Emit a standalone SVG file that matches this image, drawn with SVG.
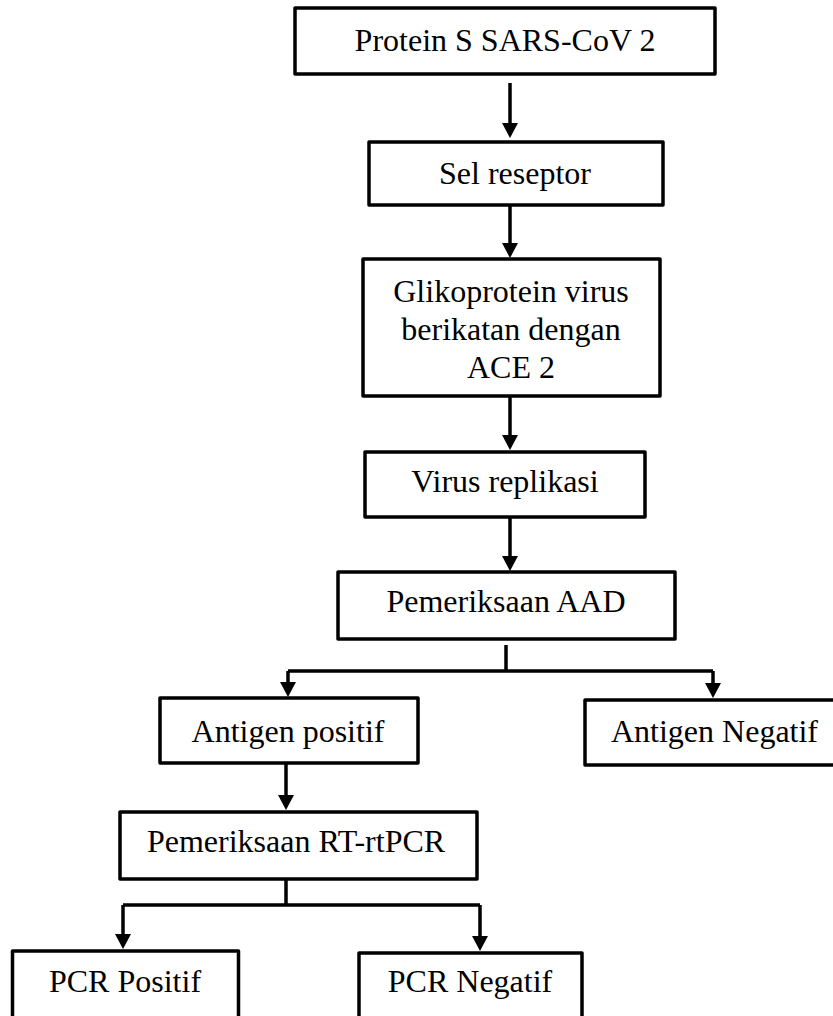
<svg xmlns="http://www.w3.org/2000/svg" width="833" height="1016" viewBox="0 0 833 1016">
<style>
.box{fill:#fff;stroke:#000;stroke-width:3.5;stroke-linejoin:round}
.lbl{font-family:"Liberation Serif","Times New Roman",serif;font-size:32px;fill:#000;text-anchor:middle}
.ln{fill:none;stroke:#000;stroke-width:3.5}
.arr{fill:none;stroke:#000;stroke-width:3.5;marker-end:url(#head)}
</style>
<defs>
<marker id="head" markerUnits="userSpaceOnUse" markerWidth="16" markerHeight="16" viewBox="0 0 16 16" refX="3" refY="8" orient="auto">
<path d="M0,0 L15,8 L0,16 Z" fill="#000"/>
</marker>
</defs>
<rect width="833" height="1016" fill="#fff"/>
<g id="connectors">
<path class="arr" d="M510,83 V126"/>
<path class="arr" d="M510,205 V246"/>
<path class="arr" d="M510,396 V438"/>
<path class="arr" d="M510,517 V559"/>
<path class="ln" d="M506,645 V671 M288,671 H713"/>
<path class="arr" d="M288,671 V685"/>
<path class="arr" d="M713,671 V686"/>
<path class="arr" d="M286,763 V798"/>
<path class="ln" d="M286,879 V905 M123,905 H480"/>
<path class="arr" d="M123,905 V937"/>
<path class="arr" d="M480,905 V939"/>
</g>
<g id="n1"><rect class="box" x="295" y="8" width="420" height="66"/><text class="lbl" x="505" y="51">Protein S SARS-CoV 2</text></g>
<g id="n2"><rect class="box" x="369" y="142" width="294" height="63"/><text class="lbl" x="515" y="184">Sel reseptor</text></g>
<g id="n3"><rect class="box" x="363" y="259" width="297" height="137"/><text class="lbl" x="511" y="302">Glikoprotein virus</text><text class="lbl" x="511" y="340">berikatan dengan</text><text class="lbl" x="511" y="378">ACE 2</text></g>
<g id="n4"><rect class="box" x="365" y="452" width="280" height="65"/><text class="lbl" x="505" y="492">Virus replikasi</text></g>
<g id="n5"><rect class="box" x="338" y="572" width="337" height="67"/><text class="lbl" x="506" y="612">Pemeriksaan AAD</text></g>
<g id="n6"><rect class="box" x="160" y="698" width="258" height="65"/><text class="lbl" x="288" y="742">Antigen positif</text></g>
<g id="n7"><rect class="box" x="585" y="700" width="262" height="65"/><text class="lbl" x="714.5" y="742">Antigen Negatif</text></g>
<g id="n8"><rect class="box" x="120" y="812" width="357" height="67"/><text class="lbl" x="296" y="852">Pemeriksaan RT-rtPCR</text></g>
<g id="n9"><rect class="box" x="12.5" y="951" width="226" height="90"/><text class="lbl" x="125" y="992">PCR Positif</text></g>
<g id="n10"><rect class="box" x="359" y="953" width="223" height="90"/><text class="lbl" x="470" y="992">PCR Negatif</text></g>
</svg>
